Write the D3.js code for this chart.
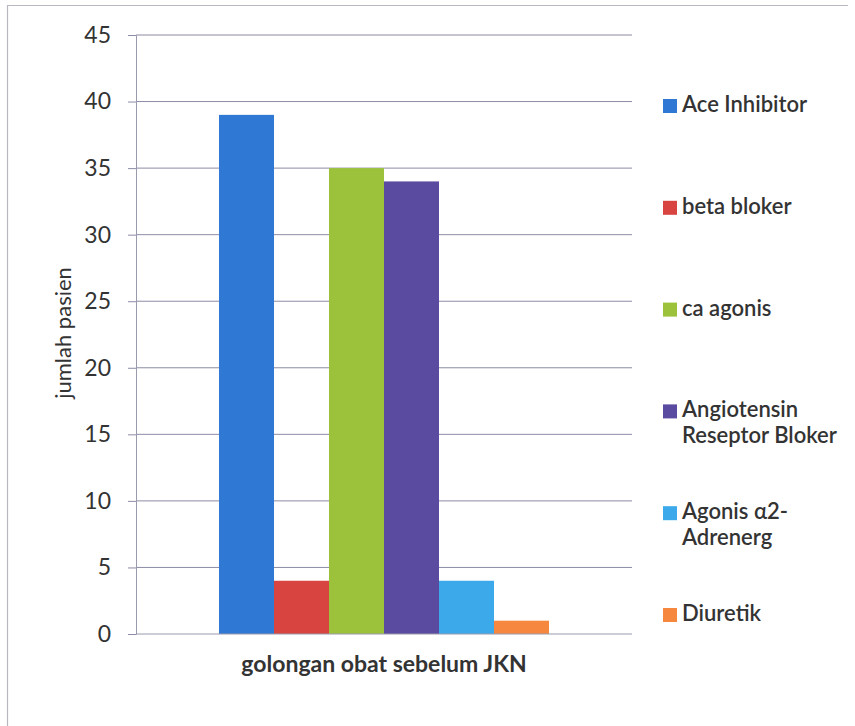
<!DOCTYPE html>
<html>
<head>
<meta charset="utf-8">
<script src="https://cdn.jsdelivr.net/npm/d3@7"></script>
<style>
  body { margin: 0; background: #fff; }
  text { font-family: Lato, "Open Sans", sans-serif; fill: #333; }
</style>
</head>
<body>
<div id="chart"></div>
<script>
// data
const GROUP = "golongan obat sebelum JKN";
const SERIES = ["Ace Inhibitor", "beta bloker", "ca agonis",
                "Angiotensin Reseptor Bloker", "Agonis \u03b12-Adrenerg", "Diuretik"];
// legend lines (wrapped as in the picture)
const LEGEND_LINES = [["Ace Inhibitor"], ["beta bloker"], ["ca agonis"],
                      ["Angiotensin", "Reseptor Bloker"], ["Agonis \u03b12-", "Adrenerg"], ["Diuretik"]];
const VALUES = [39, 4, 35, 34, 4, 1];
const COLORS = ["#2f78d4", "#d8443f", "#9cc23b", "#5a4aa0", "#3ba9ea", "#f5883e"];
const Y_TICKS = [0, 5, 10, 15, 20, 25, 30, 35, 40, 45];

// frame and margins
const FRAME_WIDTH = 855;
const FRAME_HEIGHT = 726;
const MARGINS = {left: 136, right: 223, top: 35, bottom: 92};
const VIS_WIDTH = FRAME_WIDTH - MARGINS.left - MARGINS.right;
const VIS_HEIGHT = FRAME_HEIGHT - MARGINS.top - MARGINS.bottom;

const svg = d3.select("#chart")
  .append("svg")
    .attr("width", FRAME_WIDTH)
    .attr("height", FRAME_HEIGHT);

// outer chart border (left and top visible in the scan)
svg.append("path")
  .attr("d", "M7.5,726 V5.5 H848")
  .attr("fill", "none")
  .attr("stroke", "#b8b8c0")
  .attr("stroke-width", 1.2);

const g = svg.append("g")
  .attr("transform", "translate(" + MARGINS.left + "," + MARGINS.top + ")");

// scales
const Y_SCALE = d3.scaleLinear()
  .domain([0, 45])
  .range([VIS_HEIGHT, 0]);

const X0 = d3.scaleBand()
  .domain([GROUP])
  .range([0, VIS_WIDTH])
  .padding(0.201);

const X1 = d3.scaleBand()
  .domain(SERIES)
  .range([0, X0.bandwidth()]);

// gridlines
g.append("g")
  .selectAll("line")
  .data(Y_TICKS.filter(d => d > 0))
  .enter()
  .append("line")
    .attr("x1", 0)
    .attr("x2", VIS_WIDTH)
    .attr("y1", d => Y_SCALE(d))
    .attr("y2", d => Y_SCALE(d))
    .attr("stroke", "#8c8ca6")
    .attr("stroke-width", 1);

// y axis
const yAxis = g.append("g")
  .call(d3.axisLeft(Y_SCALE).tickValues(Y_TICKS).tickSize(8).tickPadding(17));
yAxis.selectAll("text")
  .attr("font-size", "23px")
  .attr("fill", "#333");
yAxis.selectAll("line").attr("stroke", "#8c8ca6");
yAxis.select(".domain").attr("stroke", "#9a9aae");

// bars
g.append("g")
  .attr("transform", "translate(" + X0(GROUP) + ",0)")
  .selectAll("rect")
  .data(VALUES)
  .enter()
  .append("rect")
    .attr("x", (d, i) => X1(SERIES[i]))
    .attr("y", d => Y_SCALE(d))
    .attr("width", X1.bandwidth())
    .attr("height", d => VIS_HEIGHT - Y_SCALE(d))
    .attr("fill", (d, i) => COLORS[i]);

// x baseline
g.append("line")
  .attr("x1", 0)
  .attr("x2", VIS_WIDTH)
  .attr("y1", VIS_HEIGHT)
  .attr("y2", VIS_HEIGHT)
  .attr("stroke", "#9a9aae");

// x axis title
g.append("text")
  .attr("x", VIS_WIDTH / 2)
  .attr("y", VIS_HEIGHT + 38)
  .attr("text-anchor", "middle")
  .attr("font-size", "23px")
  .attr("font-weight", "bold")
  .text(GROUP);

// y axis title
svg.append("text")
  .attr("transform", "translate(71,333) rotate(-90)")
  .attr("text-anchor", "middle")
  .attr("font-size", "22px")
  .text("jumlah pasien");

// legend
const legend = svg.append("g")
  .selectAll("g")
  .data(LEGEND_LINES)
  .enter()
  .append("g")
    .attr("transform", (d, i) => "translate(663," + (112 + i * 101.8) + ")");

legend.append("rect")
  .attr("x", 0)
  .attr("y", -13)
  .attr("width", 14)
  .attr("height", 14)
  .attr("fill", (d, i) => COLORS[i]);

legend.append("text")
  .attr("x", 19)
  .attr("y", 0)
  .attr("font-size", "22px")
  .attr("font-weight", 600)
  .selectAll("tspan")
  .data(d => d)
  .enter()
  .append("tspan")
    .attr("x", 19)
    .attr("dy", (d, i) => i === 0 ? 0 : 26)
    .text(d => d);
</script>
</body>
</html>
